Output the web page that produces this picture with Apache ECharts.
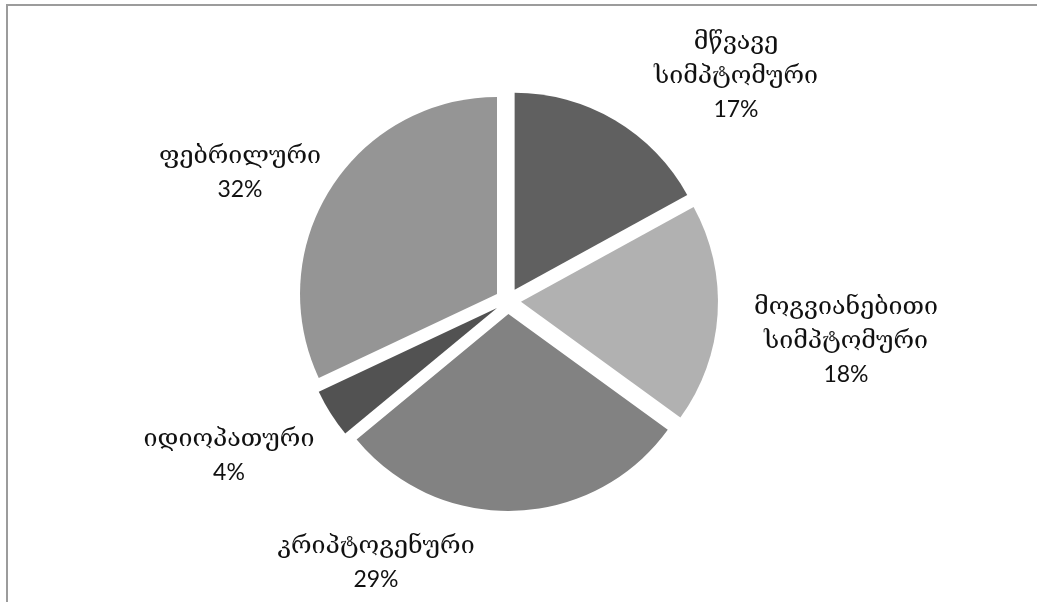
<!DOCTYPE html>
<html>
<head>
<meta charset="utf-8">
<script src="https://cdn.jsdelivr.net/npm/echarts@6/dist/echarts.min.js"></script>
<style>
  html, body { margin: 0; padding: 0; background: #fff; }
  #wrap { position: relative; width: 1037px; height: 602px; overflow: hidden; }
  #chart { position: absolute; left: 0; top: 0; width: 1037px; height: 602px; }
  #frame { position: absolute; left: 6px; top: 4px; width: 1040px; height: 610px;
           border-top: 2px solid #9c9c9c; border-left: 2px solid #9c9c9c; pointer-events: none; }
</style>
</head>
<body>
<div id="wrap">
  <div id="chart"></div>
  <div id="frame"></div>
</div>
<script>
// Onset categories (two-line names where the label wraps)
const categories = [
  'მწვავე\nსიმპტომური',
  'მოგვიანებითი\nსიმპტომური',
  'კრიპტოგენური',
  'იდიოპათური',
  'ფებრილური'
];
// Share of cases, percent
const shares = [17, 18, 29, 4, 32];
// Slice fills
const fills = ['#606060', '#b1b1b1', '#828282', '#525252', '#959595'];

// Pie geometry
const CX = 508, CY = 301, RADIUS = 197, EXPLODE = 13;
// Label block centres relative to the pie centre
const labelOffsets = [[228, -225], [338, 40], [-132, 262], [-279, 155], [-268, -128]];

const richStyles = {
  g: { fontFamily: 'DejaVu Serif', fontSize: 25, fill: '#111', lineHeight: 34, align: 'center' },
  p: { fontFamily: 'Lato', fontSize: 23, fill: '#111', lineHeight: 34, align: 'center' }
};

function labelText(name, value) {
  return name.split('\n').map(s => '{g|' + s + '}').join('\n') + '\n{p|' + value + '%}';
}

const chart = echarts.init(document.getElementById('chart'), null, { renderer: 'canvas' });

chart.setOption({
  animation: false,
  series: [{
    type: 'pie',
    center: [CX, CY],
    radius: [0, RADIUS],
    startAngle: 90,
    clockwise: true,
    selectedMode: 'multiple',
    selectedOffset: EXPLODE,
    emphasis: { disabled: true },
    itemStyle: { borderWidth: 0 },
    label: { show: false },
    labelLine: { show: false },
    data: categories.map((name, i) => ({
      name,
      value: shares[i],
      selected: true,
      itemStyle: { color: fills[i] }
    }))
  }],
  // Category / percentage labels around the pie
  graphic: categories.map((name, i) => ({
    type: 'text',
    x: CX + labelOffsets[i][0],
    y: CY + labelOffsets[i][1],
    silent: true,
    style: {
      text: labelText(name, shares[i]),
      align: 'center',
      verticalAlign: 'middle',
      rich: richStyles
    }
  }))
});
</script>
</body>
</html>
